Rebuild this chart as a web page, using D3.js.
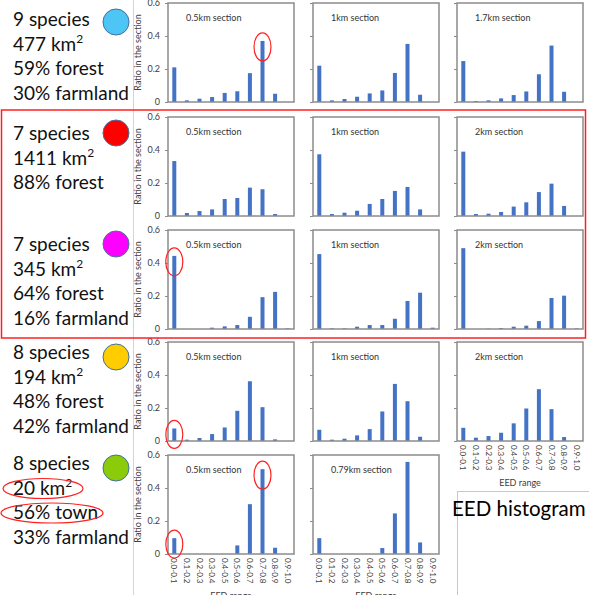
<!DOCTYPE html>
<html>
<head>
<meta charset="utf-8">
<script src="https://cdn.jsdelivr.net/npm/d3@7"></script>
<style>
  html, body { margin: 0; padding: 0; background: #fff; }
  svg { display: block; font-family: Lato, "Open Sans", sans-serif; }
</style>
</head>
<body>
<svg id="chart" width="589" height="595"></svg>
<script>
// EED range bins (x axis)
const categories = ["0.0-0.1", "0.1-0.2", "0.2-0.3", "0.3-0.4", "0.4-0.5",
                    "0.5-0.6", "0.6-0.7", "0.7-0.8", "0.8-0.9", "0.9-1.0"];
const yTicks = [0, 0.2, 0.4, 0.6];

// site descriptions (left column)
const siteSpecies = ["9 species", "7 species", "7 species", "8 species", "8 species"];
const siteArea = ["477", "1411", "345", "194", "20"];
const siteCover = [
  ["59% forest", "30% farmland"],
  ["88% forest"],
  ["64% forest", "16% farmland"],
  ["48% forest", "42% farmland"],
  ["56% town", "33% farmland"]
];
const siteColors = ["#4DC6F6", "#FF0000", "#FF00FF", "#FFCC00", "#8CCB0A"];

// section labels per site
const sectionNames = [
  ["0.5km section", "1km section", "1.7km section"],
  ["0.5km section", "1km section", "2km section"],
  ["0.5km section", "1km section", "2km section"],
  ["0.5km section", "1km section", "2km section"],
  ["0.5km section", "0.79km section"]
];

// ratio in the section, one array per site, one row per section
const site1 = [
  [0.21, 0.01, 0.02, 0.03, 0.055, 0.065, 0.175, 0.37, 0.05, 0],
  [0.22, 0.01, 0.018, 0.032, 0.052, 0.07, 0.176, 0.352, 0.044, 0],
  [0.248, 0.006, 0.01, 0.022, 0.042, 0.064, 0.168, 0.342, 0.062, 0]
];
const site2 = [
  [0.333, 0.018, 0.03, 0.04, 0.103, 0.109, 0.172, 0.162, 0.012, 0],
  [0.374, 0.012, 0.02, 0.032, 0.073, 0.103, 0.152, 0.176, 0.04, 0],
  [0.39, 0.012, 0.014, 0.024, 0.057, 0.083, 0.145, 0.196, 0.061, 0]
];
const site3 = [
  [0.443, 0, 0, 0.008, 0.016, 0.024, 0.074, 0.193, 0.225, 0.004],
  [0.454, 0.004, 0.004, 0.014, 0.024, 0.024, 0.062, 0.17, 0.22, 0.008],
  [0.49, 0, 0.002, 0.006, 0.014, 0.02, 0.048, 0.188, 0.202, 0.004]
];
const site4 = [
  [0.076, 0.008, 0.018, 0.042, 0.082, 0.183, 0.362, 0.205, 0.01, 0],
  [0.068, 0.008, 0.014, 0.034, 0.072, 0.179, 0.346, 0.241, 0.026, 0],
  [0.08, 0.02, 0.03, 0.05, 0.107, 0.197, 0.314, 0.193, 0.024, 0]
];
const site5 = [
  [0.096, 0, 0, 0, 0, 0.052, 0.302, 0.514, 0.038, 0],
  [0.096, 0, 0, 0, 0, 0.036, 0.246, 0.558, 0.07, 0]
];
const sites = [site1, site2, site3, site4, site5];

// highlighted bars: [site, section, bin]
const highlights = [[0, 0, 7], [2, 0, 0], [3, 0, 0], [4, 0, 0], [4, 0, 7]];
// panels that carry x axis labels: [site, section]
const labelledPanels = [[3, 2], [4, 0], [4, 1]];

// layout
const rowTops = [3, 117, 230, 342, 455];
const colLefts = [168, 313, 457];
const pw = 126, ph = 99;
const textBase = [26, 140, 251, 359, 470];
const lineGap = 24.5;
const circleY = [22, 133, 244, 357, 468];

const svg = d3.select("#chart");
const blue = "#4472C4";
const axisGrey = "#8C8C8C";
const labelCol = "#404040";

// separator between text and charts
svg.append("line")
  .attr("x1", 133.5).attr("x2", 133.5).attr("y1", 0).attr("y2", 595)
  .attr("stroke", "#D4D4D4").attr("stroke-width", 1);

const x = d3.scaleBand().domain(categories).range([0, pw]).padding(0);
const y = d3.scaleLinear().domain([0, 0.6]).range([ph, 0]);
const barW = 4;

sites.forEach((site, r) => {
  // left side description
  const t = svg.append("g").attr("font-size", 19).attr("fill", "#111");
  const lines = [siteSpecies[r], null].concat(siteCover[r]);
  lines.forEach((s, i) => {
    const tx = t.append("text").attr("x", 13).attr("y", textBase[r] + i * lineGap);
    if (s === null) {
      tx.append("tspan").text(siteArea[r] + " km");
      tx.append("tspan").attr("font-size", 12).attr("dy", -8).text("2");
    } else {
      tx.text(s);
    }
  });
  svg.append("circle")
    .attr("cx", 116).attr("cy", circleY[r]).attr("r", 13)
    .attr("fill", siteColors[r])
    .attr("stroke", "#41719C").attr("stroke-width", 1);

  site.forEach((vals, c) => {
    const g = svg.append("g").attr("transform", `translate(${colLefts[c]},${rowTops[r]})`);

    g.selectAll("rect.bar")
      .data(vals)
      .enter()
      .append("rect")
      .attr("class", "bar")
      .attr("x", (d, i) => x(categories[i]) + x.bandwidth() / 2 - barW / 2)
      .attr("width", barW)
      .attr("y", d => y(d))
      .attr("height", d => y(0) - y(d))
      .attr("fill", blue);

    // plot area border
    g.append("rect")
      .attr("x", 0).attr("y", 0).attr("width", pw).attr("height", ph)
      .attr("fill", "none").attr("stroke", axisGrey).attr("stroke-width", 1.5);

    const ya = g.append("g")
      .call(d3.axisLeft(y).tickValues(yTicks).tickSize(3)
        .tickFormat(c === 0 ? d => d === 0 ? "0" : d3.format(".1f")(d) : () => ""));
    ya.select(".domain").remove();
    ya.selectAll(".tick line").attr("stroke", axisGrey);
    ya.selectAll(".tick text")
      .attr("font-family", "Lato, sans-serif")
      .attr("font-size", 9).attr("fill", labelCol).attr("x", -8);

    if (c === 0) {
      g.append("text")
        .attr("transform", `translate(-27,${ph / 2}) rotate(-90)`)
        .attr("text-anchor", "middle")
        .attr("font-size", 9).attr("fill", labelCol)
        .text("Ratio in the section");
    }

    g.append("text")
      .attr("x", 18).attr("y", 18)
      .attr("font-size", 9).attr("fill", "#333")
      .text(sectionNames[r][c]);

    if (labelledPanels.some(p => p[0] === r && p[1] === c)) {
      const xa = g.append("g").attr("transform", `translate(0,${ph})`)
        .call(d3.axisBottom(x).tickSize(0).tickPadding(0));
      xa.select(".domain").remove();
      xa.selectAll(".tick text")
        .attr("font-family", "Lato, sans-serif")
        .attr("font-size", 8).attr("fill", labelCol)
        .attr("text-anchor", "start")
        .attr("dy", null)
        .attr("transform", "translate(-3,4) rotate(90)");
      g.append("text")
        .attr("x", pw / 2).attr("y", ph + 45)
        .attr("text-anchor", "middle")
        .attr("font-size", 9).attr("fill", labelCol)
        .text("EED range");
    }

    highlights.filter(h => h[0] === r && h[1] === c).forEach(h => {
      g.append("ellipse")
        .attr("cx", x(categories[h[2]]) + x.bandwidth() / 2)
        .attr("cy", y(vals[h[2]]) + 6)
        .attr("rx", 8.5).attr("ry", 14)
        .attr("fill", "none").attr("stroke", "#FF2020").attr("stroke-width", 1.2);
    });
  });
});

// red ellipses around "20 km2" and "56% town"
svg.append("ellipse")
  .attr("cx", 43).attr("cy", textBase[4] + lineGap - 6).attr("rx", 40).attr("ry", 10)
  .attr("fill", "none").attr("stroke", "#FF2020").attr("stroke-width", 1.2);
svg.append("ellipse")
  .attr("cx", 52).attr("cy", textBase[4] + 2 * lineGap - 6).attr("rx", 51).attr("ry", 10)
  .attr("fill", "none").attr("stroke", "#FF2020").attr("stroke-width", 1.2);

// red frame around sites 2 and 3
svg.append("rect")
  .attr("x", 1.5).attr("y", 110).attr("width", 584).attr("height", 228)
  .attr("fill", "none").attr("stroke", "#FF2020").attr("stroke-width", 1.5);

// title box
svg.append("rect")
  .attr("x", 457.5).attr("y", 491.5).attr("width", 140).attr("height", 120)
  .attr("fill", "none").attr("stroke", "#C8C8C8").attr("stroke-width", 1);
svg.append("text")
  .attr("x", 452).attr("y", 516)
  .attr("font-size", 20.5).attr("fill", "#000")
  .text("EED histogram");
</script>
</body>
</html>
